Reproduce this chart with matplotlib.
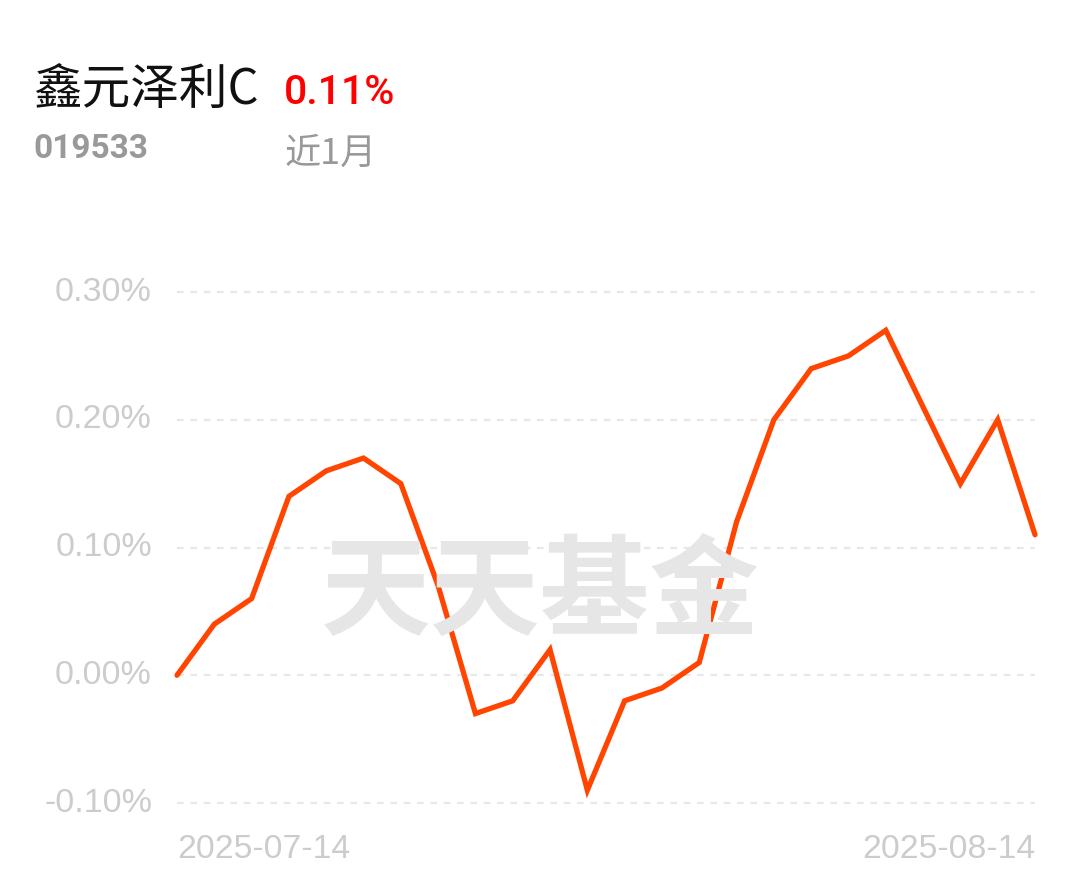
import matplotlib
matplotlib.use('Agg')
import matplotlib.pyplot as plt

plt.rcParams['font.family'] = ['Noto Sans CJK SC', 'DejaVu Sans']

# 近1月 累计收益 (%), 交易日
dates = ['2025-07-14', '2025-07-15', '2025-07-16', '2025-07-17', '2025-07-18',
         '2025-07-21', '2025-07-22', '2025-07-23', '2025-07-24', '2025-07-25',
         '2025-07-28', '2025-07-29', '2025-07-30', '2025-07-31', '2025-08-01',
         '2025-08-04', '2025-08-05', '2025-08-06', '2025-08-07', '2025-08-08',
         '2025-08-11', '2025-08-12', '2025-08-13', '2025-08-14']
returns = [0.00, 0.04, 0.06, 0.14, 0.16, 0.17, 0.15, 0.07, -0.03, -0.02,
           0.02, -0.09, -0.02, -0.01, 0.01, 0.12, 0.20, 0.24, 0.25, 0.27,
           0.21, 0.15, 0.20, 0.11]
yticks = [-0.10, 0.00, 0.10, 0.20, 0.30]
ytick_labels = ['-0.10%', '0.00%', '0.10%', '0.20%', '0.30%']
fund_name = '鑫元泽利C'
fund_code = '019533'
period_return = '0.11%'
period_label = '近1月'

W, H = 1080, 881
fig = plt.figure(figsize=(W / 100, H / 100), dpi=100)
ax = fig.add_axes([177 / W, 78 / H, 858 / W, 511 / H])
ax.set_xlim(0, len(dates) - 1)
ax.set_ylim(-0.10, 0.30)
ax.axis('off')

# grid
for t, lab in zip(yticks, ytick_labels):
    ax.axhline(t, color='#e8e8e8', lw=1.6, ls=(0, (3, 3)), zorder=1, clip_on=False)
    ax.text(-25 / 858 * (len(dates) - 1), t, lab, ha='right', va='center',
            fontsize=24.5, color='#cccccc', family=['Liberation Sans'])

# watermark
fig.text(540 / W, 1 - 596 / H, '天天基金', ha='center', va='center',
         fontsize=79, fontweight='bold', color='#e6e6e6', zorder=0)

ax.plot(range(len(dates)), returns, color='#ff4500', lw=3.8,
        solid_joinstyle='miter', solid_capstyle='round', clip_on=False, zorder=3)

# date labels
fig.text(177 / W, 1 - 850 / H, dates[0], ha='left', va='center',
         fontsize=24.3, color='#cccccc', family=['Liberation Sans'])
fig.text(1035 / W, 1 - 850 / H, dates[-1], ha='right', va='center',
         fontsize=24.3, color='#cccccc', family=['Liberation Sans'])

# header
fig.text(33 / W, 1 - 105 / H, fund_name, ha='left', va='baseline',
         fontsize=35, color='#111111')
fig.text(284 / W, 1 - 104 / H, period_return, ha='left', va='baseline',
         fontsize=29.5, color='#ff0000', family=['Roboto'], fontweight='medium')
fig.text(33 / W, 1 - 158 / H, fund_code, ha='left', va='baseline',
         fontsize=24, color='#999999', family=['Roboto'], fontweight='bold')
fig.text(285 / W, 1 - 164 / H, period_label, ha='left', va='baseline',
         fontsize=26, color='#999999')

fig.savefig('out.png', dpi=100, facecolor='white')
